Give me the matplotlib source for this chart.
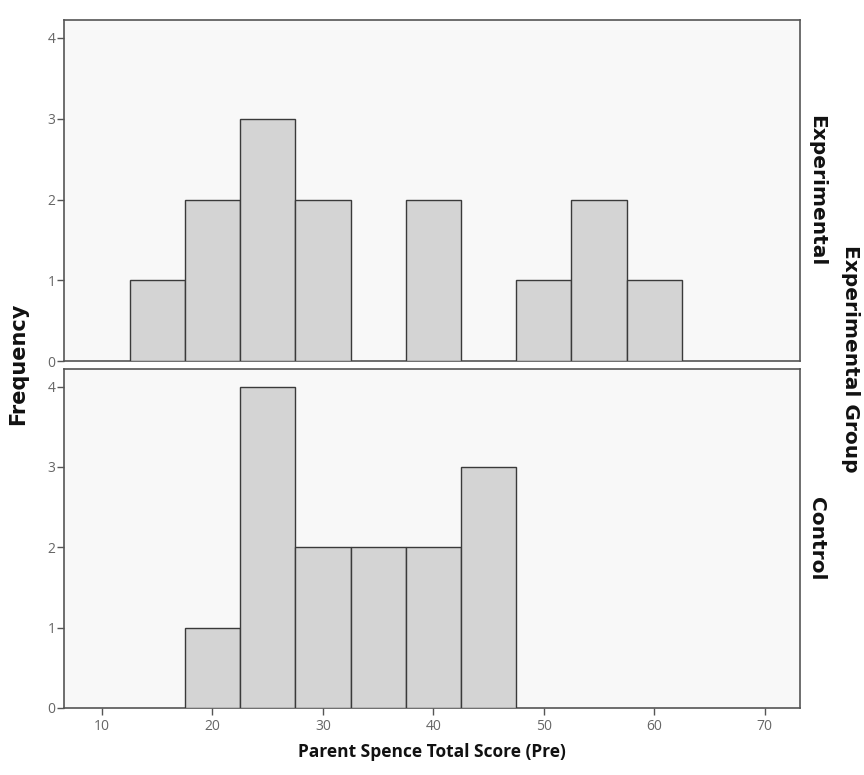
import matplotlib
matplotlib.use("Agg")
import matplotlib.pyplot as plt

# Data: histogram bin centres (width 5) and frequencies
bin_width = 5
exp_centers = [15, 20, 25, 30, 40, 50, 55, 60]
exp_counts = [1, 2, 3, 2, 2, 1, 2, 1]
ctl_centers = [20, 25, 30, 35, 40, 45]
ctl_counts = [1, 4, 2, 2, 2, 3]
x_ticks = [10, 20, 30, 40, 50, 60, 70]
y_ticks = [0, 1, 2, 3, 4]
panel_labels = ["Experimental", "Control"]

plt.rcParams['font.family'] = ['Open Sans', 'DejaVu Sans']

fig = plt.figure(figsize=(8.64, 7.75), dpi=100)
fig.patch.set_facecolor('white')

ax1 = fig.add_axes([0.074, 0.534, 0.852, 0.440])
ax2 = fig.add_axes([0.074, 0.0865, 0.852, 0.4375])

vfont = ['DejaVu Sans']
for ax, centers, counts, lab in [(ax1, exp_centers, exp_counts, panel_labels[0]),
                                  (ax2, ctl_centers, ctl_counts, panel_labels[1])]:
    ax.set_facecolor('#f8f8f8')
    ax.bar(centers, counts, width=bin_width, color='#d4d4d4', edgecolor='#3a3a3a',
           linewidth=1.0, zorder=3)
    ax.set_xlim(6.55, 73.2)
    ax.set_ylim(0, 4.22)
    ax.set_yticks(y_ticks)
    ax.set_yticklabels([str(v) for v in y_ticks], fontsize=10, color='#666666')
    ax.tick_params(axis='y', direction='out', length=5, width=1, color='#555555', pad=1)
    for s in ax.spines.values():
        s.set_color('#555555')
        s.set_linewidth(1.2)
    ax.text(1.010, 0.5, lab, transform=ax.transAxes, rotation=-90, ha='left',
            va='center', fontsize=14.5, fontweight='bold', color='#111111',
            family=vfont)

ax1.set_xticks([])
ax2.set_xticks(x_ticks)
ax2.set_xticklabels([str(v) for v in x_ticks], fontsize=10, color='#666666')
ax2.tick_params(axis='x', direction='out', length=5, width=1, color='#555555', pad=3)

fig.text(0.021, 0.530, "Frequency", rotation=90, ha='center', va='center',
         fontsize=15, fontweight='bold', color='#111111', family=vfont)
fig.text(0.5, 0.030, "Parent Spence Total Score (Pre)", ha='center', va='center',
         fontsize=12.5, fontweight='bold', color='#111111')
fig.text(0.984, 0.537, "Experimental Group", rotation=-90, ha='center', va='center',
         fontsize=14.5, fontweight='bold', color='#111111', family=vfont)

fig.savefig("out.png", dpi=100)
